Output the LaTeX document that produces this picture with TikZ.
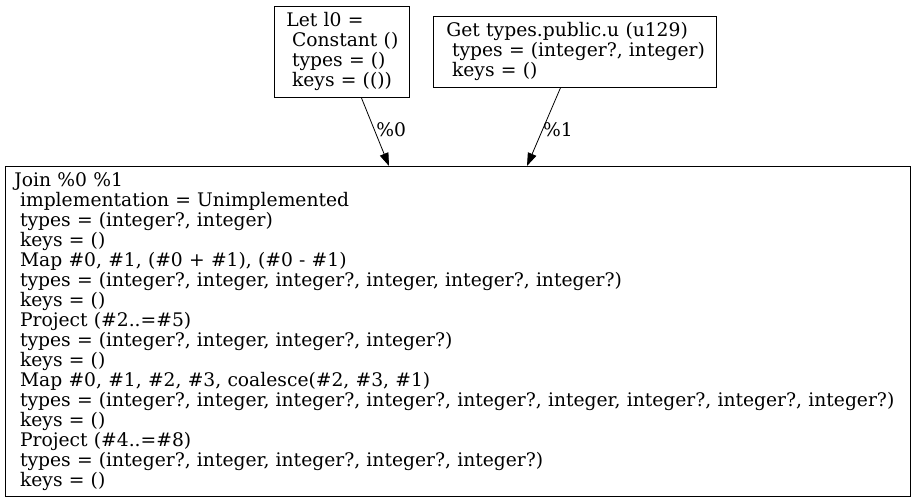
\documentclass[tikz,border=0pt]{standalone}
\usepackage{fontspec}
\setmainfont{DejaVu Serif}
\usetikzlibrary{arrows.meta,calc}
\begin{document}
\begin{tikzpicture}[x=1pt,y=-1pt,
  box/.style={draw=black,line width=0.9pt,rectangle,inner sep=0pt,align=left,anchor=north west,
    font=\fontsize{18.7}{20}\selectfont},
  edge/.style={line width=0.8pt,-{Triangle[length=13pt,width=9pt]}},
  elabel/.style={font=\fontsize{18.7}{20}\selectfont,inner sep=0pt}]
\useasboundingbox (0,0) rectangle (916,503);
\node[box,minimum width=135pt,minimum height=91pt,text width=111pt] (let) at (274,6)
 {\mbox{Let l0 =}\\ \mbox{\hspace*{0.3em}Constant ()}\\ \mbox{\hspace*{0.3em}types = ()}\\ \mbox{\hspace*{0.3em}keys = (())}};
\node[box,minimum width=283pt,minimum height=71pt,text width=257pt] (get) at (433,16)
 {\mbox{Get types.public.u (u129)}\\ \mbox{\hspace*{0.3em}types = (integer?, integer)}\\ \mbox{\hspace*{0.3em}keys = ()}};
\node[box,minimum width=905pt,minimum height=330pt,text width=887pt] (join) at (5,166)
 {Join \%0 \%1\\
 \hspace*{0.3em}implementation = Unimplemented\\
 \hspace*{0.3em}types = (integer?, integer)\\
 \hspace*{0.3em}keys = ()\\
 \hspace*{0.3em}Map \#0, \#1, (\#0 + \#1), (\#0 - \#1)\\
 \hspace*{0.3em}types = (integer?, integer, integer?, integer, integer?, integer?)\\
 \hspace*{0.3em}keys = ()\\
 \hspace*{0.3em}Project (\#2..=\#5)\\
 \hspace*{0.3em}types = (integer?, integer, integer?, integer?)\\
 \hspace*{0.3em}keys = ()\\
 \hspace*{0.3em}Map \#0, \#1, \#2, \#3, coalesce(\#2, \#3, \#1)\\
 \hspace*{0.3em}\mbox{types = (integer?, integer, integer?, integer?, integer?, integer, integer?, integer?, integer?)}\\
 \hspace*{0.3em}keys = ()\\
 \hspace*{0.3em}Project (\#4..=\#8)\\
 \hspace*{0.3em}types = (integer?, integer, integer?, integer?, integer?)\\
 \hspace*{0.3em}keys = ()};
\draw[edge] ($(let.south)+(19.5,0)$) -- node[elabel,right,pos=0.47,xshift=1.5pt]{\%0} ($(join.north west)+(384,0)$);
\draw[edge] ($(get.south)+(-14.5,0)$) -- node[elabel,right,pos=0.53,xshift=0pt]{\%1} ($(join.north west)+(522,0)$);
\end{tikzpicture}
\end{document}
